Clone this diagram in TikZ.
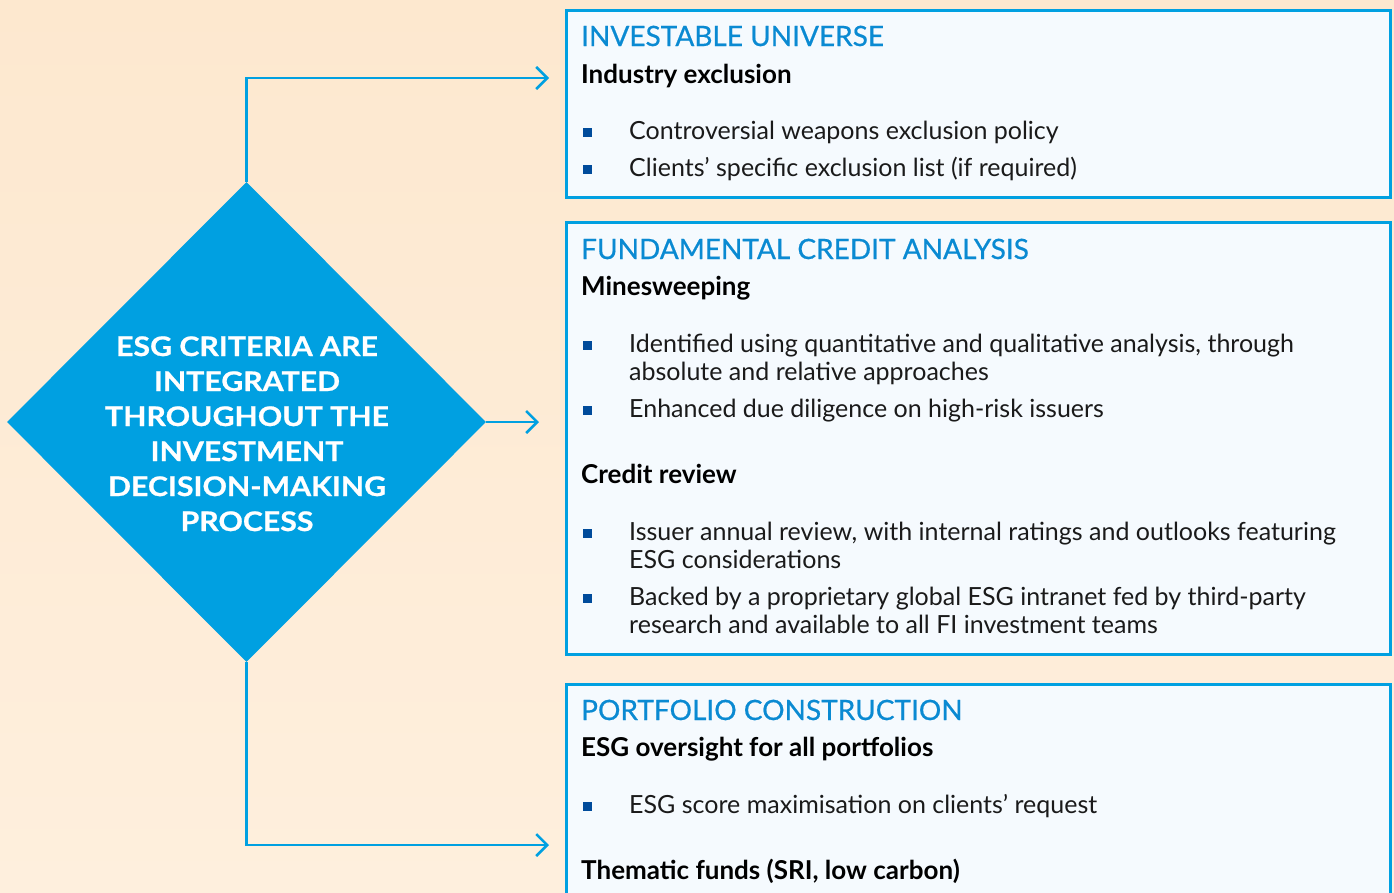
\documentclass[tikz,border=0pt]{standalone}
\usepackage{fontspec}
\setmainfont{Lato}
\newfontfamily\headfont[FakeBold=0.6]{Lato}
\newfontfamily\diafont[FakeBold=0.8,FakeStretch=1.12]{Lato}
\usetikzlibrary{arrows.meta,shapes.geometric}
\definecolor{bgtop}{HTML}{FDE8CF}
\definecolor{bgbot}{HTML}{FEEFDD}
\definecolor{esgblue}{HTML}{00A0E1}
\definecolor{headblue}{HTML}{0A8AD2}
\definecolor{bulletblue}{HTML}{004B9B}
\definecolor{panelfill}{HTML}{F5FAFE}
\definecolor{bodytext}{HTML}{1A1A1A}
\tikzset{
  panel/.style={draw=esgblue, line width=2.5pt, fill=panelfill, rectangle, inner sep=0pt, anchor=north west},
  conn/.style={draw=esgblue, line width=2.5pt, -{Straight Barb[length=11pt,width=22pt]}},
  head/.style={anchor=base west, inner sep=0pt, text=headblue, font=\headfont\fontsize{28}{30}\selectfont},
  sub/.style={anchor=base west, inner sep=0pt, text=black, font=\bfseries\fontsize{26}{28}\selectfont},
  body/.style={anchor=base west, inner sep=0pt, text=bodytext, font=\fontsize{25}{28}\selectfont},
  sq/.style={fill=bulletblue, inner sep=0pt, minimum size=9pt, rectangle},
  dtext/.style={anchor=base, inner sep=0pt, text=white, font=\diafont\bfseries\fontsize{27}{35}\selectfont},
}
\begin{document}
\begin{tikzpicture}[x=1pt,y=-1pt]
\useasboundingbox (0,0) rectangle (1394,892);
\clip (0,0) rectangle (1394,892);
\shade[top color=bgtop, bottom color=bgbot] (0,0) rectangle (1394,892);

% panels
\node[panel, minimum width=824pt, minimum height=187pt] (box1) at (565,9) {};
\node[panel, minimum width=824pt, minimum height=432pt] (box2) at (565,221) {};
\node[panel, minimum width=824pt, minimum height=260pt] (box3) at (565,683) {};

% diamond
\node[diamond, aspect=1, fill=esgblue, inner sep=0pt, minimum width=479pt, minimum height=480pt] (esg) at (246.5,422) {};
\node[dtext] (d1) at (247,356) {ESG CRITERIA ARE};
\node[dtext] (d2) at (247,391) {INTEGRATED};
\node[dtext] (d3) at (247,426) {THROUGHOUT THE};
\node[dtext] (d4) at (247,461) {INVESTMENT};
\node[dtext] (d5) at (247,496) {DECISION-MAKING};
\node[dtext] (d6) at (247,531) {PROCESS};

% connectors
\coordinate (a1) at (549,78);
\coordinate (a2) at (539,422);
\coordinate (a3) at (549,845);
\draw[conn] (esg.north) |- (a1);
\draw[conn] (esg.east) -- (a2);
\draw[conn] (esg.south) |- (a3);

% box 1
\node[head] (h1) at (581,46) {INVESTABLE UNIVERSE};
\node[sub] (s1) at (581,83) {Industry exclusion};
\node[sq] (q1) at (587,132) {};
\node[body] (t1) at (629,139) {Controversial weapons exclusion policy};
\node[sq] (q2) at (587,169) {};
\node[body] (t2) at (629,176) {Clients’ specific exclusion list (if required)};

% box 2
\node[head] (h2) at (581,259) {FUNDAMENTAL CREDIT ANALYSIS};
\node[sub] (s2) at (581,295) {Minesweeping};
\node[sq] (q3) at (587,345) {};
\node[body] (t3) at (629,352) {Identified using quantitative and qualitative analysis, through};
\node[body] (t3b) at (629,380) {absolute and relative approaches};
\node[sq] (q4) at (587,410) {};
\node[body] (t4) at (629,417) {Enhanced due diligence on high-risk issuers};
\node[sub] (s3) at (581,483) {Credit review};
\node[sq] (q5) at (587,533) {};
\node[body] (t5) at (629,540) {Issuer annual review, with internal ratings and outlooks featuring};
\node[body] (t5b) at (629,568) {ESG considerations};
\node[sq] (q6) at (587,598) {};
\node[body] (t6) at (629,605) {Backed by a proprietary global ESG intranet fed by third-party};
\node[body] (t6b) at (629,633) {research and available to all FI investment teams};

% box 3
\node[head] (h3) at (581,720) {PORTFOLIO CONSTRUCTION};
\node[sub] (s4) at (581,756) {ESG oversight for all portfolios};
\node[sq] (q7) at (587,806) {};
\node[body] (t7) at (629,813) {ESG score maximisation on clients’ request};
\node[sub] (s5) at (581,879) {Thematic funds (SRI, low carbon)};
\end{tikzpicture}
\end{document}
